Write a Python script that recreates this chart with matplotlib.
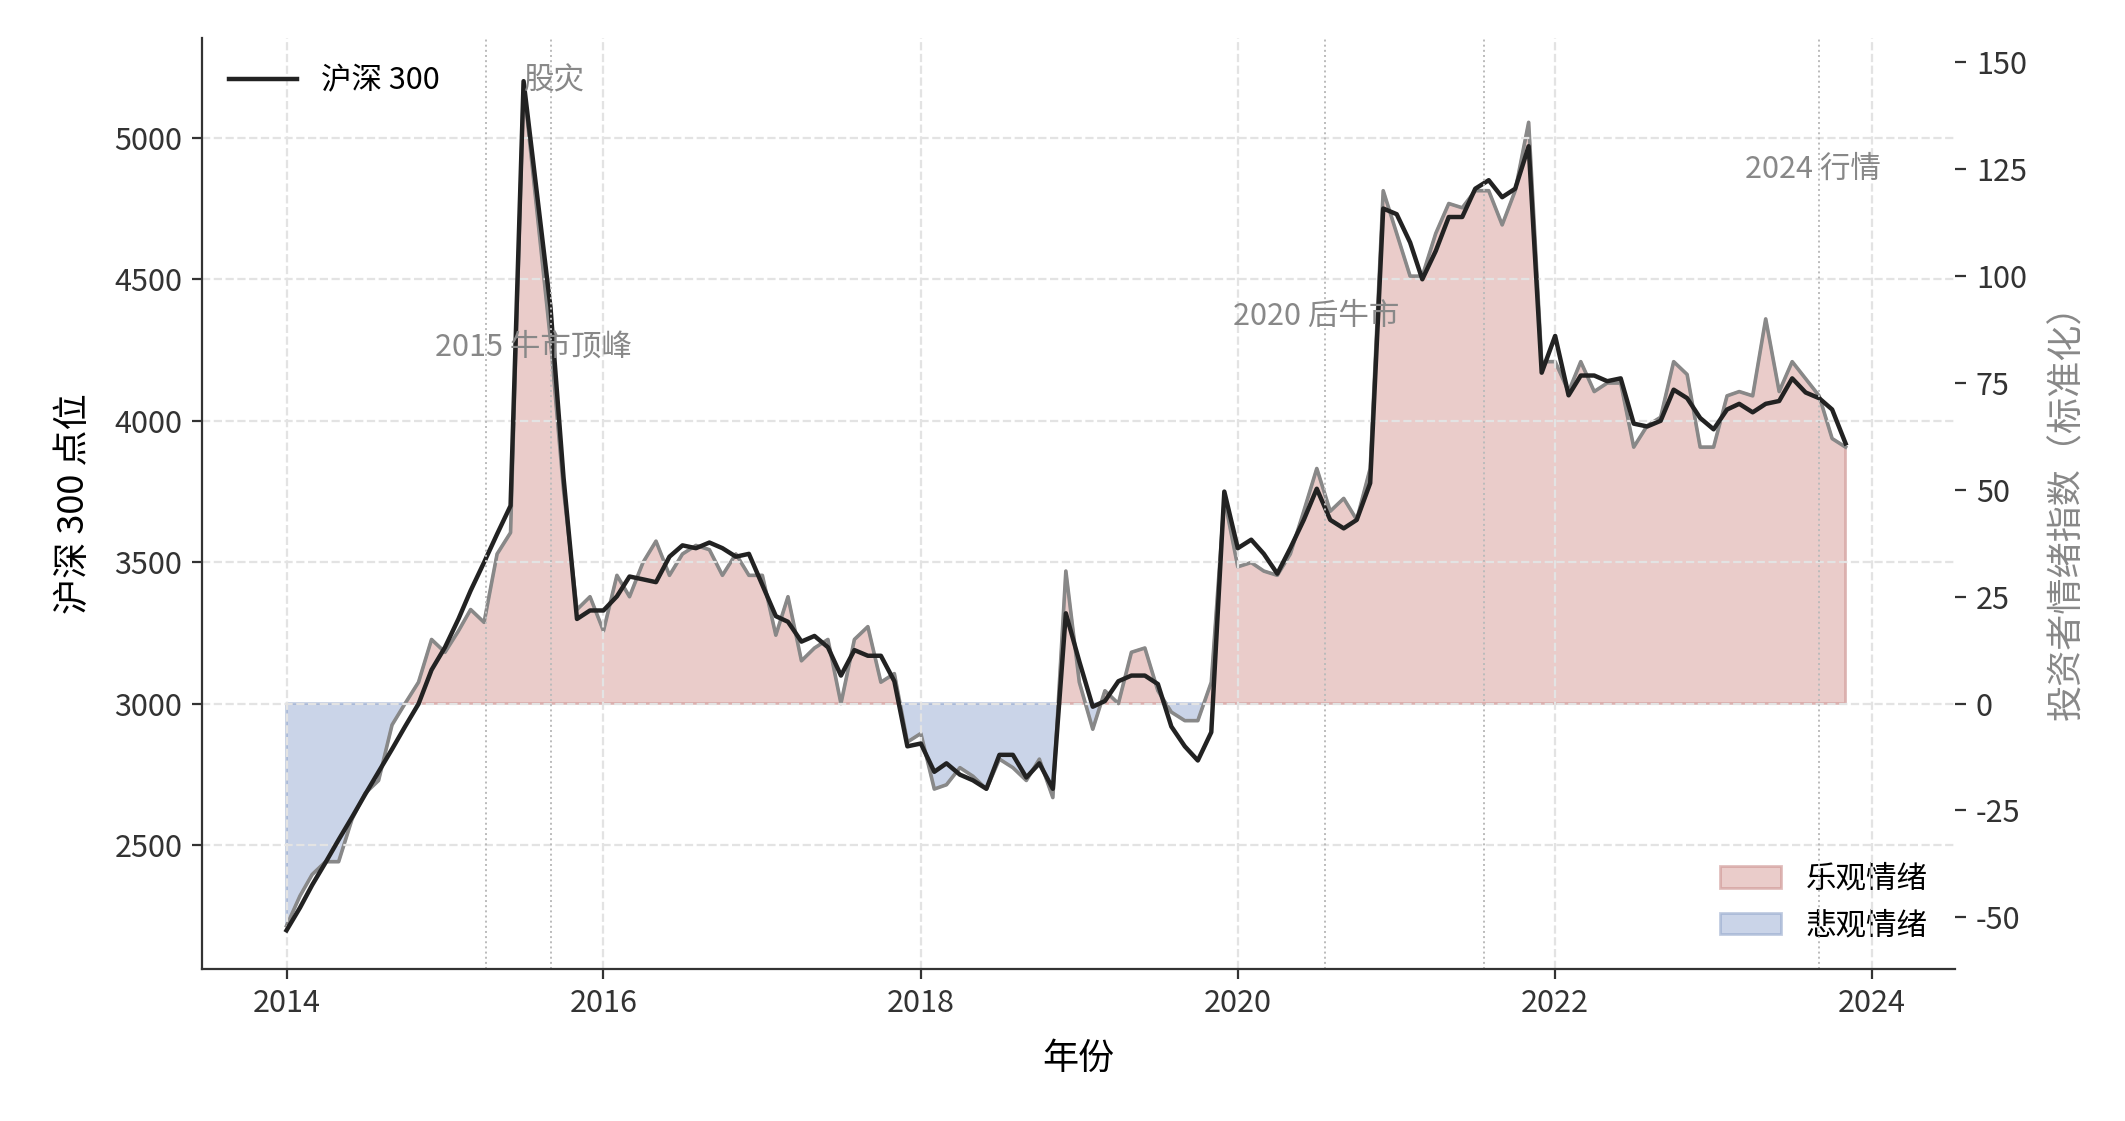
import numpy as np
import pandas as pd
import matplotlib
matplotlib.use("Agg")
import matplotlib.pyplot as plt

plt.rcParams['font.family'] = ['Noto Sans CJK SC', 'DejaVu Sans']
plt.rcParams['axes.unicode_minus'] = False

dates = pd.date_range("2014-01-01", "2024-01-01", freq="MS")
csi300 = [2200, 2280, 2360, 2440, 2520, 2600, 2680, 2760, 2840, 2920, 3000, 3120, 3200, 3300, 3400, 3500, 3600, 3700,
          5200, 4800, 4400, 3800, 3300, 3330, 3330, 3380, 3450, 3440, 3430, 3520, 3560, 3550, 3570, 3550,
          3520, 3530, 3420, 3310, 3290, 3220, 3240, 3200, 3100, 3190, 3170, 3170, 3080, 2850,
          2860, 2760, 2790, 2750, 2730, 2700, 2820, 2820, 2740, 2790, 2700, 3320,
          3150, 2990, 3010, 3080, 3100, 3100, 3070, 2920, 2850, 2800, 2900, 3750,
          3550, 3580, 3530, 3460, 3550, 3650, 3760, 3650, 3620, 3650, 3780, 4750,
          4730, 4630, 4500, 4600, 4720, 4720, 4820, 4850, 4790, 4820, 4970, 4170,
          4300, 4090, 4160, 4160, 4140, 4150, 3990, 3980, 4000, 4110, 4080, 4010,
          3970, 4040, 4060, 4030, 4060, 4070, 4150, 4100, 4080, 4040, 3920]
sentiment = [-52, -45, -40, -37, -37, -27, -21, -18, -5, 0, 5, 15, 12, 17, 22, 19, 35, 40,
             145, 115, 85, 50, 22, 25, 17, 30, 25, 33, 38, 30, 35, 37, 36, 30,
             35, 30, 30, 16, 25, 10, 13, 15, 0, 15, 18, 5, 7, -9,
             -7, -20, -19, -15, -17, -20, -13, -15, -18, -13, -22, 31,
             5, -6, 3, 0, 12, 13, 3, -2, -4, -4, 5, 48,
             32, 33, 31, 30, 35, 45, 55, 45, 48, 43, 55, 120,
             110, 100, 100, 110, 117, 116, 120, 120, 112, 120, 136, 80,
             80, 73, 80, 73, 75, 75, 60, 65, 67, 80, 77, 60,
             60, 72, 73, 72, 90, 73, 80, 76, 72, 62, 60]
n = min(len(dates), len(csi300), len(sentiment))
dates = dates[:n]; csi300 = np.array(csi300[:n]); sentiment = np.array(sentiment[:n], float)

fig = plt.figure(figsize=(10.625, 5.605), dpi=200)
ax = fig.add_axes([0.095, 0.136, 0.825, 0.83])
ax2 = ax.twinx()

ax2.fill_between(dates, 0, sentiment, where=sentiment >= 0, interpolate=True,
                 color='#d9a3a0', alpha=0.55, edgecolor='#c98a88', linewidth=1, label='乐观情绪')
ax2.fill_between(dates, 0, sentiment, where=sentiment <= 0, interpolate=True,
                 color='#9fb2d6', alpha=0.55, edgecolor='#8ea2c8', linewidth=1, label='悲观情绪')
ax2.plot(dates, sentiment, color='#888888', lw=1.3)
ax.plot(dates, csi300, color='#222222', lw=1.6, label='沪深 300')
ax.set_zorder(ax2.get_zorder() + 1); ax.patch.set_visible(False)

ax.set_ylim(2065, 5352)
ax2.set_ylim(-62, 155.7)
ax.set_xlim(pd.Timestamp("2013-06-20"), pd.Timestamp("2024-07-10"))
ax.set_yticks([2500, 3000, 3500, 4000, 4500, 5000])
ax2.set_yticks([-50, -25, 0, 25, 50, 75, 100, 125, 150])
years = [pd.Timestamp(f"{y}-01-01") for y in range(2014, 2025, 2)]
ax.set_xticks(years); ax.set_xticklabels([str(y) for y in range(2014, 2025, 2)])

for d in ["2015-04-05", "2015-09-01", "2020-07-20", "2021-07-20", "2023-09-01"]:
    ax.axvline(pd.Timestamp(d), color='#bbbbbb', lw=0.7, ls=':')
ax.grid(True, ls='--', color='#e3e3e3', lw=0.8)

for s in ['top', 'right']:
    ax.spines[s].set_visible(False)
for s in ['top', 'right', 'left', 'bottom']:
    ax2.spines[s].set_visible(False)
ax.spines['left'].set_color('#333333'); ax.spines['bottom'].set_color('#333333')
ax.tick_params(labelsize=11, colors='#333333')
ax2.tick_params(labelsize=11, colors='#333333', length=4)
ax.set_xlabel('年份', fontsize=13, labelpad=8)
ax.set_ylabel('沪深 300 点位', fontsize=13, labelpad=8)
ax2.set_ylabel('投资者情绪指数（标准化）', fontsize=13, color='#888888', labelpad=8)

ann = dict(color='#888888', fontsize=11)
ax.text(pd.Timestamp("2014-12-10"), 4230, '2015 牛市顶峰', **ann)
ax.text(pd.Timestamp("2015-07-01"), 5200, '股灾', va='center', **ann)
ax.text(pd.Timestamp("2019-12-20"), 4340, '2020 后牛市', **ann)
ax.text(pd.Timestamp("2023-03-15"), 4860, '2024 行情', **ann)

ax.legend(loc='upper left', frameon=False, fontsize=11, handlelength=2.2)
ax2.legend(loc='lower right', frameon=False, fontsize=11)
fig.savefig("out.png", dpi=200)
